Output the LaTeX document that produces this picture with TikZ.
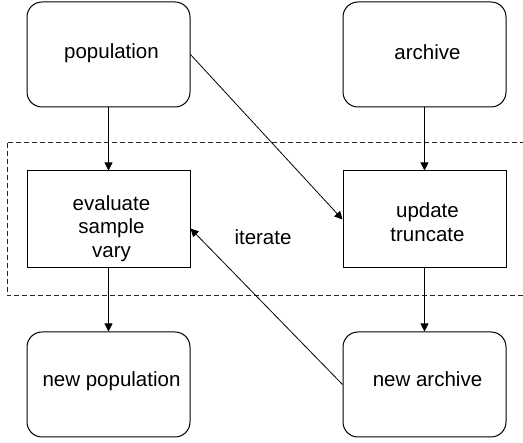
\documentclass[tikz,border=0pt]{standalone}
\usepackage{fontspec}
\setmainfont{Liberation Sans}
\usetikzlibrary{arrows.meta,calc}
\begin{document}
\begin{tikzpicture}[x=1pt,y=-1pt,
  rbox/.style={draw=black,line width=1pt,rounded corners=15pt,minimum width=163pt,minimum height=105pt,inner sep=0pt},
  sbox/.style={draw=black,line width=1pt,minimum width=163pt,minimum height=97pt,inner sep=0pt},
  txt/.style={inner sep=0pt,align=center,font=\fontsize{20.5}{23.5}\selectfont},
  arr/.style={line width=0.8pt,-{Triangle[length=8pt,width=8pt]}},
  loopframe/.style={draw=black!85,line width=1pt,dash pattern=on 5pt off 3pt}
]
\useasboundingbox (0,0) rectangle (523,443);
\clip (0,0) rectangle (523,443);
\fill[white] (0,0) rectangle (523,443);

% dashed frame
\draw[loopframe] (7,143) rectangle (545,296);

% boxes
\node[rbox] (pop) at (108.5,54.5) {};
\node[rbox] (arch) at (424.5,54.5) {};
\node[sbox] (eval) at (108.5,219.5) {};
\node[sbox] (upd) at (424.5,219.5) {};
\node[rbox] (npop) at (108.5,384.5) {};
\node[rbox] (narch) at (424.5,384.5) {};

% texts
\node[txt,anchor=base] (popt) at (111.5,58.5) {population};
\node[txt,anchor=base] (archt) at (427.5,59.5) {archive};
\node[txt] (evalt) at (111.5,228.3) {evaluate\\sample\\vary};
\node[txt] (updt) at (427.5,222.1) {update\\truncate};
\node[txt,anchor=base] (npopt) at (111.5,387) {new population};
\node[txt,anchor=base] (narcht) at (427.5,387) {new archive};
\node[txt,anchor=base] (itert) at (263,245) {iterate};

% connectors
\coordinate (evin) at ($(eval.east)+(0,9)$);
\draw[arr] (pop.south) -- (eval.north);
\draw[arr] (arch.south) -- (upd.north);
\draw[arr] (eval.south) -- (npop.north);
\draw[arr] (upd.south) -- (narch.north);
\draw[arr] (pop.east) -- (upd.west);
\draw[arr] (narch.west) -- (evin);
\end{tikzpicture}
\end{document}
